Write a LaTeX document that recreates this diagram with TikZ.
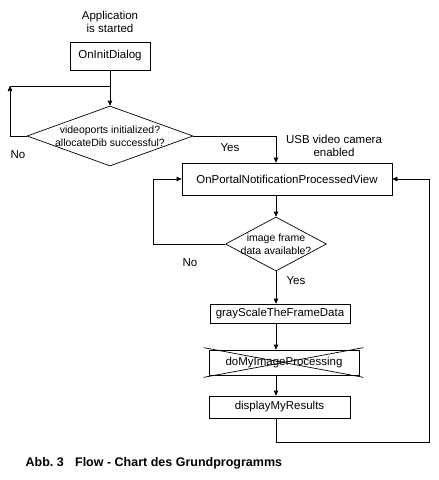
\documentclass[tikz,border=0pt]{standalone}
\usepackage{fontspec}
\setmainfont{Liberation Sans}
\usepackage{tikz}
\usetikzlibrary{arrows.meta,shapes.geometric,calc}

\begin{document}
\begin{tikzpicture}[
  x=1pt, y=-1pt, line width=0.7pt,
  font=\fontsize{11.5}{13}\selectfont,
  task/.style={draw, rectangle, inner sep=1pt},
  query/.style={draw, diamond, inner sep=-3pt, align=center,
                font=\fontsize{10.5}{13}\selectfont},
  flow/.style={-{Triangle[length=5pt,width=4.5pt]}},
  note/.style={align=center}]
  \useasboundingbox (0,0) rectangle (439,480);
  \coordinate (spine) at (276,0);
  % start of the program
  \node[note] (start) at (110,22) {Application\\is started};
  \node[task, minimum width=80pt, minimum height=28pt] (init) at (110,56) {OnInitDialog};
  \node[query, aspect=2.77, minimum width=166pt, minimum height=60pt] (check) at (110,136)
    {videoports initialized?\\allocateDib successful?};
  \node[note] (usb) at (334,146) {USB video camera\\enabled};
  \node[task, minimum width=210pt, minimum height=32pt] (portal) at (287,179)
    {OnPortalNotificationProcessedView};
  \node[query, aspect=1.87, minimum width=101pt, minimum height=54pt] (frame) at (276,244)
    {image frame\\data available?};
  \node[task, minimum width=140pt, minimum height=19pt] (gray) at (280,313.5)
    {grayScaleTheFrameData};
  \node[task, minimum width=150pt, minimum height=25pt] (proc) at (284,362.5)
    {doMyImageProcessing};
  \node[task, minimum width=141pt, minimum height=22pt] (disp) at (279.5,407)
    {displayMyResults};
  % branch labels
  \node (no1) at (18,155) {No};
  \node (yes1) at (230,148) {Yes};
  \node (no2) at (190,263) {No};
  \node (yes2) at (296,281) {Yes};
  % loop coordinates
  \coordinate (l1a) at (10,136);
  \coordinate (l1b) at (10,86);
  \coordinate (l1c) at (110,86);
  \coordinate (l2) at (153,179);
  \coordinate (r1) at (429,442);
  \coordinate (r2) at (429,179);
  % connectors
  \draw[flow] (init) -- (check);
  \draw[flow] (check.west) -- (l1a) -- (l1b);
  \draw (l1b) -- (l1c);
  \draw[flow] (check.east) -| (portal.north -| spine);
  \draw[flow] (portal.south -| spine) -- (frame.north);
  \draw[flow] (frame.west) -| (l2) -- (portal.west);
  \draw[flow] (frame.south) -- (gray.north -| spine);
  \draw[flow] (gray.south -| spine) -- (proc.north -| spine);
  \draw[flow] (proc.south -| spine) -- (disp.north -| spine);
  \draw[flow] (disp.south -| spine) |- (r1) -- (r2) -- (portal.east);
  % crossed out step
  \draw ([shift={(-5,-2)}]proc.north west) -- ([shift={(4,2)}]proc.south east);
  \draw ([shift={(-5,2)}]proc.south west) -- ([shift={(4,-2)}]proc.north east);
  % caption
  \node[anchor=west, font=\fontsize{12.5}{14}\selectfont\bfseries] (caption) at (22,463)
    {Abb.~3\hspace{0.9em}Flow - Chart des Grundprogramms};
\end{tikzpicture}
\end{document}
